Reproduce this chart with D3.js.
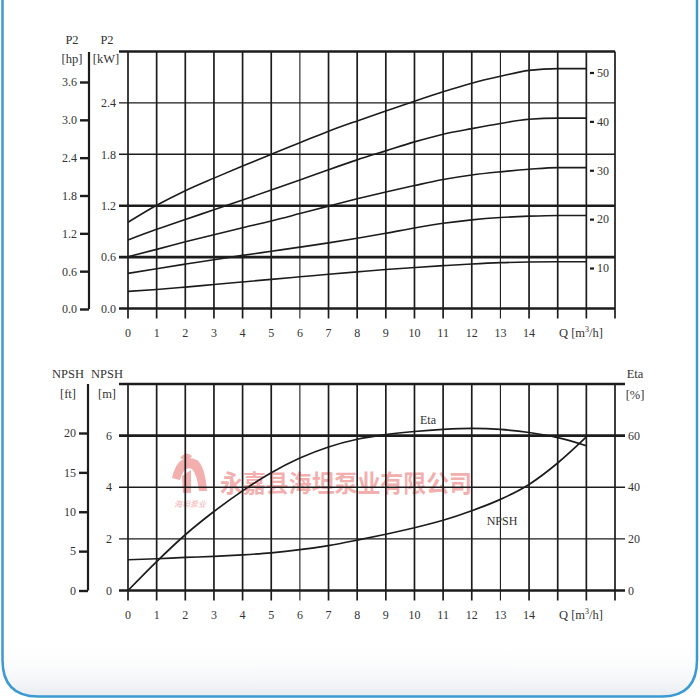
<!DOCTYPE html>
<html>
<head>
<meta charset="utf-8">
<script src="https://cdn.jsdelivr.net/npm/d3@7"></script>
<style>
body { margin: 0; background: #fff; }
svg text { font-family: "Liberation Serif", "DejaVu Serif", serif; fill: #333; }
</style>
</head>
<body>
<script>
// flow points the curves were read at, m3/h
var flowQ = [0, 1, 2, 3, 4, 5, 6, 7, 8, 9, 10, 11, 12, 13, 14, 15, 16];

// shaft power P2 [kW] for the five models (-10 ... -50)
var p2Model10 = [0.20, 0.222, 0.25, 0.28, 0.31, 0.34, 0.37, 0.40, 0.428, 0.455, 0.478, 0.50, 0.52, 0.535, 0.543, 0.546, 0.546];
var p2Model20 = [0.41, 0.465, 0.518, 0.57, 0.62, 0.668, 0.716, 0.766, 0.82, 0.878, 0.94, 0.995, 1.035, 1.062, 1.078, 1.086, 1.086];
var p2Model30 = [0.605, 0.69, 0.778, 0.862, 0.943, 1.022, 1.108, 1.195, 1.28, 1.36, 1.435, 1.505, 1.558, 1.595, 1.625, 1.645, 1.645];
var p2Model40 = [0.80, 0.924, 1.04, 1.152, 1.267, 1.383, 1.50, 1.62, 1.735, 1.84, 1.945, 2.035, 2.10, 2.16, 2.21, 2.222, 2.222];
var p2Model50 = [1.006, 1.205, 1.375, 1.522, 1.663, 1.80, 1.935, 2.07, 2.19, 2.305, 2.42, 2.53, 2.63, 2.71, 2.78, 2.80, 2.80];
var p2Curves = [p2Model10, p2Model20, p2Model30, p2Model40, p2Model50];
var modelLabels = [10, 20, 30, 40, 50];

// efficiency [%] and NPSH [m]
var etaValues = [0, 11.2, 21.6, 30.6, 38.6, 45.6, 51.3, 55.6, 58.6, 60.4, 61.6, 62.4, 62.8, 62.4, 61.2, 59.2, 56.1];
var npshValues = [1.19, 1.23, 1.28, 1.32, 1.38, 1.46, 1.58, 1.74, 1.95, 2.18, 2.43, 2.72, 3.09, 3.53, 4.11, 4.94, 5.95];

// ticks / grid
var gridQ = d3.range(0, 18);
var labelQ = d3.range(0, 15);
var kwTicks = [0, 0.6, 1.2, 1.8, 2.4];
var kwGrid = [0, 0.6, 1.2, 1.8, 2.4, 3.0];
var kwThick = [0, 0.6, 1.2, 3.0];
var hpTicks = [0, 0.6, 1.2, 1.8, 2.4, 3.0, 3.6];
var mTicks = [0, 2, 4, 6];
var mGrid = [0, 2, 4, 6, 8];
var mThick = [0, 6, 8];
var ftTicks = [0, 5, 10, 15, 20];
var etaTicks = [0, 20, 40, 60];

var svg = d3.select("body").append("svg")
    .attr("width", 700)
    .attr("height", 700);

var x = d3.scaleLinear().domain([0, 17]).range([128, 615]);

// top panel scales
var yKw = d3.scaleLinear().domain([0, 3]).range([308.5, 51.5]);
var yHp = d3.scaleLinear().domain([0, 3.6]).range([309, 82]);
var yModel = d3.scaleLinear().domain([10, 50]).range([268, 72.5]);

// bottom panel scales
var yM = d3.scaleLinear().domain([0, 8]).range([590.5, 384]);
var yFt = d3.scaleLinear().domain([0, 20]).range([590.5, 433]);
var yEta = d3.scaleLinear().domain([0, 80]).range([590.5, 384]);

var ink = "#1c1c1c";

// soft shade near the bottom of the card
var defs = svg.append("defs");
var grad = defs.append("linearGradient")
    .attr("id", "shade").attr("x1", 0).attr("y1", 0).attr("x2", 0).attr("y2", 1);
grad.append("stop").attr("offset", "0").attr("stop-color", "#fff").attr("stop-opacity", 0);
grad.append("stop").attr("offset", "1").attr("stop-color", "#e9edf0").attr("stop-opacity", 1);

svg.append("path")
    .attr("d", "M2.5,640 L2.5,660 Q2.5,696.5 38,696.5 L662,696.5 Q697,696.5 697,660 L697,640 Z")
    .attr("fill", "url(#shade)");

// frame round the picture
svg.append("path")
    .attr("d", "M2.5,-5 L2.5,660 Q2.5,696.5 38,696.5 L662,696.5 Q697,696.5 697,660 L697,-5")
    .attr("fill", "none")
    .attr("stroke", "#3b9ad2")
    .attr("stroke-width", 2.5);

// watermark
var wm = svg.append("g").attr("opacity", 0.75);
wm.append("path")
    .attr("d", "M172,478 Q178,452 197,460 Q205,466 207,491 L199,491 Q197,474 192,469 Q184,465 180,480 Z")
    .attr("fill", "#ef9494");
wm.append("path")
    .attr("d", "M182,476 L191,470 L191,493 L183,493 Z")
    .attr("fill", "#ef9494");
wm.append("path")
    .attr("d", "M180,458 Q186,450 192,456 L188,461 Z")
    .attr("fill", "#ef9494");
wm.append("text")
    .attr("x", 190).attr("y", 507)
    .attr("text-anchor", "middle")
    .style("font-family", "'Noto Sans CJK SC'")
    .style("font-size", "8px")
    .style("font-style", "italic")
    .style("fill", "#ef9494")
    .text("海坦泵业");
wm.append("text")
    .attr("x", 220).attr("y", 492)
    .attr("textLength", 252)
    .attr("lengthAdjust", "spacingAndGlyphs")
    .style("font-family", "'Noto Sans CJK SC'")
    .style("font-size", "24px")
    .style("font-weight", "bold")
    .style("fill", "#ef9494")
    .text("永嘉县海坦泵业有限公司");

function drawGrid(yScale, hValues, thickValues, rightExtra) {
    var g = svg.append("g");
    var top = yScale.range()[1];
    var bottom = yScale.range()[0];

    g.selectAll(".v").data(gridQ).enter()
        .append("line")
        .attr("x1", function(d) { return x(d); })
        .attr("x2", function(d) { return x(d); })
        .attr("y1", top)
        .attr("y2", bottom + 10)
        .attr("stroke", ink)
        .attr("stroke-width", function(d) { return (d == 6 || d == 13) ? 1.1 : 1.7; });

    g.selectAll(".h").data(hValues).enter()
        .append("line")
        .attr("x1", 119)
        .attr("x2", 615 + rightExtra)
        .attr("y1", function(d) { return yScale(d); })
        .attr("y2", function(d) { return yScale(d); })
        .attr("stroke", ink)
        .attr("stroke-width", function(d) { return thickValues.indexOf(d) >= 0 ? 2.6 : 1.4; });

    g.selectAll(".ql").data(labelQ).enter()
        .append("text")
        .attr("x", function(d) { return x(d); })
        .attr("y", bottom + 28)
        .attr("text-anchor", "middle")
        .style("font-size", "12px")
        .text(function(d) { return d; });

    var q = g.append("text")
        .attr("x", 559)
        .attr("y", bottom + 28)
        .style("font-size", "12.5px");
    q.append("tspan").text("Q [m");
    q.append("tspan").attr("dy", -5).style("font-size", "8px").text("3");
    q.append("tspan").attr("dy", 5).text("/h]");
    return g;
}

function valueLabels(values, yScale, xPos, anchor, fmt) {
    svg.append("g").selectAll("text").data(values).enter()
        .append("text")
        .attr("x", xPos)
        .attr("y", function(d) { return yScale(d); })
        .attr("dy", "0.35em")
        .attr("text-anchor", anchor)
        .style("font-size", "12px")
        .text(function(d) { return fmt(d); });
}

function outerAxis(scale, values, xPos, top, fmt) {
    var ax = svg.append("g")
        .attr("transform", "translate(" + xPos + ",0)")
        .call(d3.axisLeft(scale).tickValues(values).tickSize(9).tickPadding(3).tickFormat(fmt));
    ax.select(".domain").remove();
    ax.selectAll(".tick line").attr("stroke", ink).attr("stroke-width", 2.4);
    ax.selectAll(".tick text")
        .style("font-size", "12px")
        .style("font-family", "'Liberation Serif', serif")
        .style("fill", "#333");
    ax.append("line")
        .attr("x1", 0).attr("x2", 0)
        .attr("y1", top).attr("y2", scale.range()[0])
        .attr("stroke", ink)
        .attr("stroke-width", 2.2);
}

function header(xPos, y, txt) {
    svg.append("text")
        .attr("x", xPos).attr("y", y)
        .attr("text-anchor", "middle")
        .style("font-size", "12.5px")
        .text(txt);
}

// ---------- top panel: P2 ----------
drawGrid(yKw, kwGrid, kwThick, 0);
valueLabels(kwTicks, yKw, 116, "end", d3.format(".1f"));
outerAxis(yHp, hpTicks, 89, 52, d3.format(".1f"));
header(72, 44, "P2");
header(72, 63, "[hp]");
header(107, 44, "P2");
header(106, 63, "[kW]");

var p2Line = d3.line()
    .x(function(d, i) { return x(flowQ[i]); })
    .y(function(d) { return yKw(d); })
    .curve(d3.curveMonotoneX);

svg.append("g").selectAll("path").data(p2Curves).enter()
    .append("path")
    .attr("d", p2Line)
    .attr("fill", "none")
    .attr("stroke", ink)
    .attr("stroke-width", 1.6);

var modelAxis = svg.append("g")
    .attr("transform", "translate(590,0)")
    .call(d3.axisRight(yModel).tickValues(modelLabels).tickSize(4).tickPadding(3));
modelAxis.select(".domain").remove();
modelAxis.selectAll(".tick line").attr("stroke", ink).attr("stroke-width", 2.2);
modelAxis.selectAll(".tick text")
    .style("font-size", "12px")
    .style("font-family", "'Liberation Serif', serif")
    .style("fill", "#333");

// ---------- bottom panel: NPSH / Eta ----------
drawGrid(yM, mGrid, mThick, 10);
valueLabels(mTicks, yM, 112, "end", d3.format("d"));
valueLabels(etaTicks, yEta, 628, "start", d3.format("d"));
outerAxis(yFt, ftTicks, 88, 384, d3.format("d"));
header(68, 378, "NPSH");
header(107, 378, "NPSH");
header(68, 398, "[ft]");
header(107, 398, "[m]");
header(635, 378, "Eta");
header(635, 399, "[%]");

var etaLine = d3.line()
    .x(function(d, i) { return x(flowQ[i]); })
    .y(function(d) { return yEta(d); })
    .curve(d3.curveMonotoneX);

var npshLine = d3.line()
    .x(function(d, i) { return x(flowQ[i]); })
    .y(function(d) { return yM(d); })
    .curve(d3.curveMonotoneX);

svg.append("path")
    .attr("d", etaLine(etaValues))
    .attr("fill", "none")
    .attr("stroke", ink)
    .attr("stroke-width", 1.7);

svg.append("path")
    .attr("d", npshLine(npshValues))
    .attr("fill", "none")
    .attr("stroke", ink)
    .attr("stroke-width", 1.7);

svg.append("text")
    .attr("x", 428).attr("y", 424)
    .attr("text-anchor", "middle")
    .style("font-size", "12px")
    .text("Eta");

svg.append("text")
    .attr("x", 502).attr("y", 525)
    .attr("text-anchor", "middle")
    .style("font-size", "12px")
    .text("NPSH");
</script>
</body>
</html>
